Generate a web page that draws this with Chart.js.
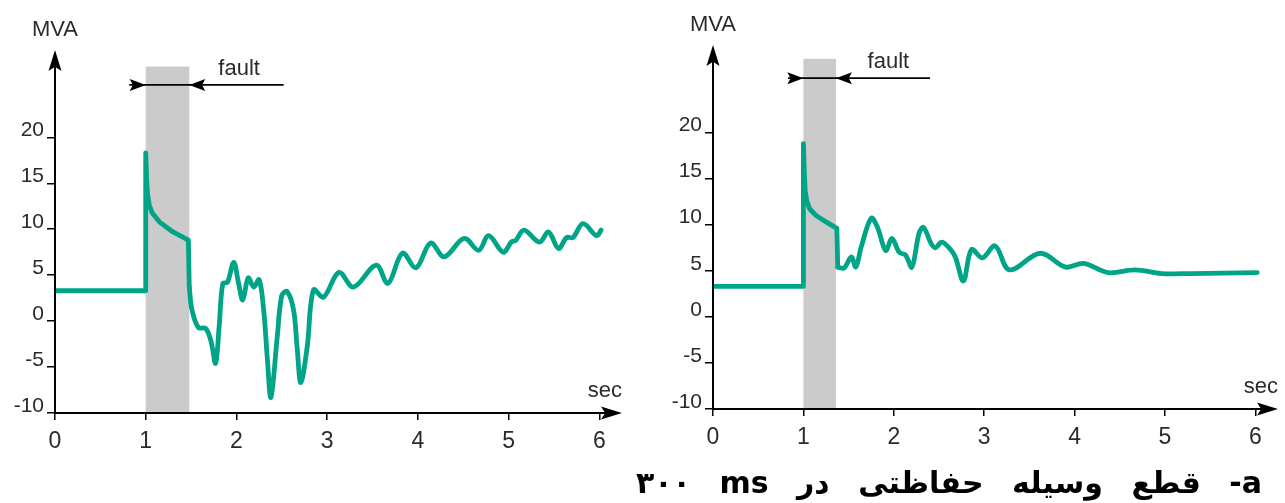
<!DOCTYPE html>
<html>
<head>
<meta charset="utf-8">
<script src="https://cdn.jsdelivr.net/npm/chart.js@4.4.1/dist/chart.umd.min.js"></script>
<style>
  html, body { margin: 0; padding: 0; background: #fff; width: 1285px; height: 503px; overflow: hidden; }
  canvas { position: absolute; top: 0; }
  #left  { left: 0; }
  #right { left: 658px; }
  #caption {
    position: absolute; left: 636px; top: 463px; width: 626px;
    display: flex; justify-content: space-between; direction: rtl;
    font: bold 30px "DejaVu Sans", sans-serif; color: #000; line-height: 40px;
  }
  #caption span { direction: rtl; unicode-bidi: isolate; }
</style>
</head>
<body>
<canvas id="left" width="640" height="503"></canvas>
<canvas id="right" width="627" height="503"></canvas>
<div id="caption"><span>a-</span><span>قطع</span><span>وسیله</span><span>حفاظتی</span><span>در</span><span>ms</span><span>٣٠٠</span></div>
<script>
// Axis ticks
const xTicks = [0, 1, 2, 3, 4, 5, 6];
const yTicks = [-10, -5, 0, 5, 10, 15, 20];

// Left: slow clearing — pre-fault level, fault peak and decay (s, MVA)
const leftStepT = [0, 1, 1, 1.01, 1.02, 1.04, 1.07, 1.15, 1.3, 1.47, 1.48];
const leftStepV = [3.3, 3.3, 18.3, 15.5, 13.8, 12.6, 11.8, 10.8, 9.7, 8.8, 3.7];
// Left: swing after clearing
const leftSwingT = [1.48, 1.51, 1.58, 1.66, 1.72, 1.77, 1.81, 1.85, 1.9, 1.97, 2.02, 2.07, 2.13, 2.19, 2.25,
  2.3, 2.34, 2.38, 2.45, 2.5, 2.56, 2.63, 2.67, 2.71, 2.78, 2.85, 2.96, 3.13, 3.29, 3.54, 3.67, 3.83, 3.98,
  4.14, 4.29, 4.51, 4.67, 4.78, 4.94, 5.03, 5.08, 5.17, 5.34, 5.44, 5.55, 5.64, 5.71, 5.82, 5.97, 6.02];
const leftSwingV = [3.7, 1.2, -0.7, -0.8, -2.2, -4.6, -0.5, 4.1, 4.2, 6.4, 4.3, 2.3, 4.7, 3.7, 4.5,
  1.2, -4, -8.3, -1.7, 2.8, 3.2, 1.2, -3, -6.7, -2.8, 3.4, 2.6, 5.3, 3.7, 6.1, 4.1, 7.4, 5.8,
  8.5, 7.0, 9.0, 7.7, 9.3, 7.5, 8.6, 8.8, 9.9, 8.6, 9.7, 7.9, 9.1, 9.1, 10.6, 9.3, 9.9];

// Right: 300 ms clearing
const rightStepT = [0, 1, 1, 1.01, 1.02, 1.04, 1.07, 1.14, 1.25, 1.37, 1.38];
const rightStepV = [3.3, 3.3, 18.8, 15.8, 13.6, 12.5, 11.7, 11.0, 10.3, 9.6, 5.4];
const rightSwingT = [1.38, 1.45, 1.53, 1.58, 1.64, 1.75, 1.82, 1.91, 1.98, 2.06, 2.13, 2.2, 2.28, 2.33, 2.41,
  2.46, 2.53, 2.61, 2.68, 2.77, 2.86, 2.98, 3.12, 3.28, 3.62, 3.9, 4.1, 4.37, 4.67, 4.96, 5.29, 6.02];
const rightSwingV = [5.4, 5.3, 6.5, 5.4, 7.6, 10.7, 9.7, 7.2, 8.5, 7.0, 6.7, 5.4, 9.1, 9.7, 8.0,
  7.5, 8.1, 7.5, 6.5, 3.9, 7.3, 6.4, 7.7, 5.1, 6.9, 5.4, 5.8, 4.8, 5.1, 4.7, 4.7, 4.8];

// Fault windows (s)
const leftFault = [1.0, 1.48];
const rightFault = [1.0, 1.36];

const LINE = '#00a486';
const TEXT = '#2b2b2b';
const FONT = '"Liberation Sans", Arial, sans-serif';

function pts(t, v) { return t.map((x, i) => ({ x: x, y: v[i] })); }

function arrowHead(ctx, tx, ty, dx, dy, len, half) {
  const px = -dy, py = dx;
  ctx.beginPath();
  ctx.moveTo(tx, ty);
  ctx.lineTo(tx - dx * len + px * half, ty - dy * len + py * half);
  ctx.lineTo(tx - dx * len * 0.8, ty - dy * len * 0.8);
  ctx.lineTo(tx - dx * len - px * half, ty - dy * len - py * half);
  ctx.closePath();
  ctx.fill();
}

const decor = {
  id: 'decor',
  beforeDatasetsDraw(chart, args, o) {
    const { ctx } = chart, xs = chart.scales.x, ys = chart.scales.y;
    const x0 = xs.getPixelForValue(o.fault[0]), x1 = xs.getPixelForValue(o.fault[1]);
    const yt = ys.getPixelForValue(o.shadeTop), yb = ys.getPixelForValue(ys.min);
    ctx.save();
    ctx.fillStyle = '#cbcbcb';
    ctx.fillRect(x0, yt, x1 - x0, yb - yt);
    ctx.restore();
  },
  afterDraw(chart, args, o) {
    const { ctx } = chart, xs = chart.scales.x, ys = chart.scales.y;
    const ax = xs.getPixelForValue(0), ay = ys.getPixelForValue(ys.min);
    const right = xs.getPixelForValue(xs.max), top = ys.getPixelForValue(ys.max);
    ctx.save();
    ctx.strokeStyle = '#000'; ctx.fillStyle = '#000'; ctx.lineWidth = 2;
    // axes with arrowheads
    ctx.beginPath();
    ctx.moveTo(ax, ay); ctx.lineTo(right - 10, ay);
    ctx.moveTo(ax, ay); ctx.lineTo(ax, top + 10);
    ctx.stroke();
    arrowHead(ctx, right, ay, 1, 0, 21, 6.5);
    arrowHead(ctx, ax, top, 0, -1, 21, 6.5);
    // fault duration marker
    const fy = ys.getPixelForValue(o.markerY);
    const f0 = xs.getPixelForValue(o.fault[0]), f1 = xs.getPixelForValue(o.fault[1]);
    ctx.lineWidth = 1.6;
    ctx.beginPath();
    ctx.moveTo(xs.getPixelForValue(o.markerSpan[0]), fy);
    ctx.lineTo(xs.getPixelForValue(o.markerSpan[1]), fy);
    ctx.stroke();
    arrowHead(ctx, f0, fy, 1, 0, 16, 6);
    arrowHead(ctx, f1, fy, -1, 0, 16, 6);
    // labels
    ctx.fillStyle = TEXT;
    ctx.font = '22px ' + FONT;
    ctx.textBaseline = 'alphabetic';
    ctx.textAlign = 'left';
    ctx.fillText('fault', xs.getPixelForValue(o.faultText[0]), ys.getPixelForValue(o.faultText[1]));
    ctx.textAlign = 'center';
    ctx.fillText('MVA', ax, top - 14);
    ctx.textAlign = 'right';
    ctx.fillText('sec', right, ay - 16);
    ctx.restore();
  }
};

function build(id, stepT, stepV, swingT, swingV, deco) {
  const ds = (t, v, tension) => ({
    data: pts(t, v), borderColor: LINE, borderWidth: 4.8, pointRadius: 0,
    tension: tension, borderJoinStyle: 'round', borderCapStyle: 'round', fill: false
  });
  return new Chart(document.getElementById(id), {
    type: 'line',
    data: { datasets: [ds(stepT, stepV, 0), ds(swingT, swingV, 0.35)] },
    options: {
      responsive: false, animation: false, devicePixelRatio: 1,
      layout: { padding: deco.padding },
      plugins: { legend: { display: false }, tooltip: { enabled: false }, decor: deco },
      scales: {
        x: {
          type: 'linear', min: 0, max: 6.25,
          afterBuildTicks: s => { s.ticks = xTicks.map(v => ({ value: v })); },
          afterFit: s => { s.height = 40; },
          grid: { display: true, drawOnChartArea: false, drawTicks: true, tickLength: 7, color: '#000', lineWidth: 1.5 },
          border: { display: false },
          ticks: { color: TEXT, font: { family: FONT, size: 23 }, padding: 8, maxRotation: 0, autoSkip: false }
        },
        y: {
          type: 'linear', min: -10, max: 29.5,
          afterBuildTicks: s => { s.ticks = yTicks.map(v => ({ value: v })); },
          afterFit: s => { s.width = 55; },
          grid: { display: true, drawOnChartArea: false, drawTicks: true, tickLength: 8, color: '#000', lineWidth: 1.5 },
          border: { display: false },
          ticks: { color: TEXT, font: { family: FONT, size: 21 }, padding: 3, labelOffset: -7, autoSkip: false }
        }
      }
    },
    plugins: [decor]
  });
}

build('left', leftStepT, leftStepV, leftSwingT, leftSwingV, {
  padding: { left: 0, right: 18, top: 50, bottom: 50 },
  fault: leftFault, shadeTop: 27.7, markerY: 25.7, markerSpan: [0.82, 2.52], faultText: [1.8, 26.8]
});
build('right', rightStepT, rightStepV, rightSwingT, rightSwingV, {
  padding: { left: 0, right: 7, top: 45, bottom: 54 },
  fault: rightFault, shadeTop: 28.0, markerY: 25.9, markerSpan: [0.83, 2.4], faultText: [1.71, 27.05]
});
</script>
</body>
</html>
